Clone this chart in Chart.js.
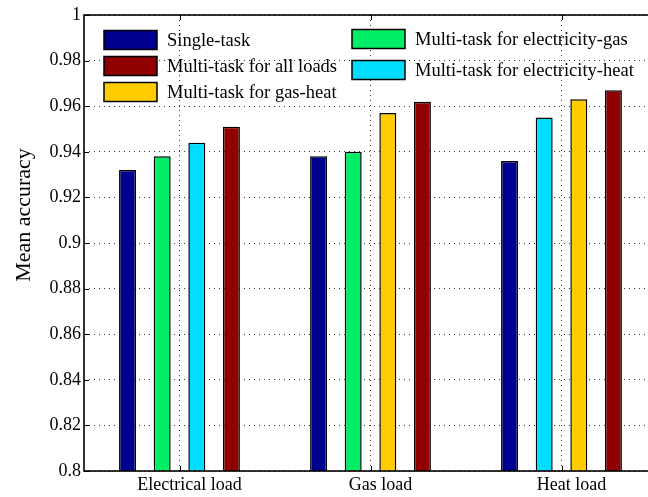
<!DOCTYPE html>
<html>
<head>
<meta charset="utf-8">
<script src="https://cdn.jsdelivr.net/npm/chart.js@4/dist/chart.umd.min.js"></script>
<style>
  html, body { margin: 0; padding: 0; background: #fff; overflow: hidden; }
  #wrap { width: 660px; height: 497px; }
</style>
</head>
<body>
<div id="wrap"><canvas id="c" width="660" height="497"></canvas></div>
<script>
// Load categories and mean accuracy per model
const categories = ['Electrical load', 'Gas load', 'Heat load'];
const singleTask   = [0.932, 0.938, 0.936];
const elecGas      = [0.938, 0.940, null];
const elecHeat     = [0.944, null, 0.955];
const gasHeat      = [null, 0.957, 0.963];
const allLoads     = [0.951, 0.962, 0.967];

const seriesNames = [
  'Single-task',
  'Multi-task for electricity-gas',
  'Multi-task for electricity-heat',
  'Multi-task for gas-heat',
  'Multi-task for all loads'
];
const seriesColors = ['#000090', '#00EE66', '#00DDFF', '#FFCC00', '#900000'];

const yTickLabels = ['0.8', '0.82', '0.84', '0.86', '0.88', '0.9', '0.92', '0.94', '0.96', '0.98', '1'];
const yTitle = 'Mean accuracy';

const FONT = '"Liberation Serif", "Times New Roman", serif';

// Legend layout: [series index, column, row]
const legendLayout = [
  [0, 0, 0], [4, 0, 1], [3, 0, 2],
  [1, 1, 0], [2, 1, 1]
];

const seriesData = [singleTask, elecGas, elecHeat, gasHeat, allLoads];

const datasets = seriesData.map((d, i) => ({
  label: seriesNames[i],
  data: d,
  backgroundColor: seriesColors[i],
  borderColor: '#000',
  borderWidth: 1.5,
  borderSkipped: 'bottom',
  skipNull: true,
  categoryPercentage: 0.725,
  barPercentage: 0.49
}));

// Box, inward ticks, y title and in-plot legend
const decorations = {
  id: 'decorations',
  afterDraw(chart) {
    const { ctx, chartArea: a, scales } = chart;
    const x = scales.x, y = scales.y;
    ctx.save();
    ctx.strokeStyle = '#000';
    ctx.lineWidth = 1.6;
    ctx.strokeRect(a.left, a.top, a.right - a.left, a.bottom - a.top);

    ctx.lineWidth = 1;
    ctx.beginPath();
    y.ticks.forEach((t, i) => {
      const py = Math.round(y.getPixelForTick(i)) + 0.5;
      ctx.moveTo(a.left, py); ctx.lineTo(a.left + 5, py);
      ctx.moveTo(a.right, py); ctx.lineTo(a.right - 5, py);
    });
    x.ticks.forEach((t, i) => {
      const px = Math.round(x.getPixelForTick(i)) + 0.5;
      ctx.moveTo(px, a.bottom); ctx.lineTo(px, a.bottom - 5);
      ctx.moveTo(px, a.top); ctx.lineTo(px, a.top + 5);
    });
    ctx.stroke();

    // y axis title
    ctx.save();
    ctx.translate(24, 215);
    ctx.rotate(-Math.PI / 2);
    ctx.fillStyle = '#000';
    ctx.font = '22px ' + FONT;
    ctx.textAlign = 'center';
    ctx.textBaseline = 'middle';
    ctx.fillText(yTitle, 0, 0);
    ctx.restore();

    // legend (transparent background)
    const colX = [104, 352];
    const colRows = [[40, 66, 92], [39, 70]];
    const sw = 53, sh = 19;
    ctx.font = '18.5px ' + FONT;
    ctx.textBaseline = 'middle';
    ctx.textAlign = 'left';
    legendLayout.forEach(([s, c, r]) => {
      const cx = colX[c], cy = colRows[c][r];
      ctx.fillStyle = seriesColors[s];
      ctx.fillRect(cx, cy - sh / 2, sw, sh);
      ctx.lineWidth = 1.5;
      ctx.strokeStyle = '#000';
      ctx.strokeRect(cx, cy - sh / 2, sw, sh);
      ctx.fillStyle = '#000';
      ctx.fillText(seriesNames[s], cx + sw + 10, cy + 1);
    });
    ctx.restore();
  }
};

new Chart(document.getElementById('c'), {
  type: 'bar',
  data: { labels: categories, datasets },
  plugins: [decorations],
  options: {
    responsive: false,
    animation: false,
    devicePixelRatio: 1,
    layout: { padding: { left: 0, top: 15, right: 3, bottom: 0 } },
    plugins: { legend: { display: false }, tooltip: { enabled: false } },
    scales: {
      x: {
        type: 'category',
        offset: true,
        grid: {
          offset: false,
          color: '#333',
          lineWidth: 1,
          drawTicks: false
        },
        border: { display: false, dash: [1, 4] },
        ticks: {
          color: '#000',
          font: { family: FONT, size: 18 },
          padding: 3,
          labelOffset: 10,
          maxRotation: 0,
          autoSkip: false
        },
        afterFit(s) { s.height = 26; }
      },
      y: {
        type: 'linear',
        min: 0.8,
        max: 1,
        grid: {
          color: '#333',
          lineWidth: 1,
          drawTicks: false
        },
        border: { display: false, dash: [1, 4] },
        ticks: {
          stepSize: 0.02,
          color: '#000',
          font: { family: FONT, size: 18 },
          padding: 3,
          callback: (v, i) => yTickLabels[i]
        },
        afterFit(s) { s.width = 84; }
      }
    }
  }
});
</script>
</body>
</html>
